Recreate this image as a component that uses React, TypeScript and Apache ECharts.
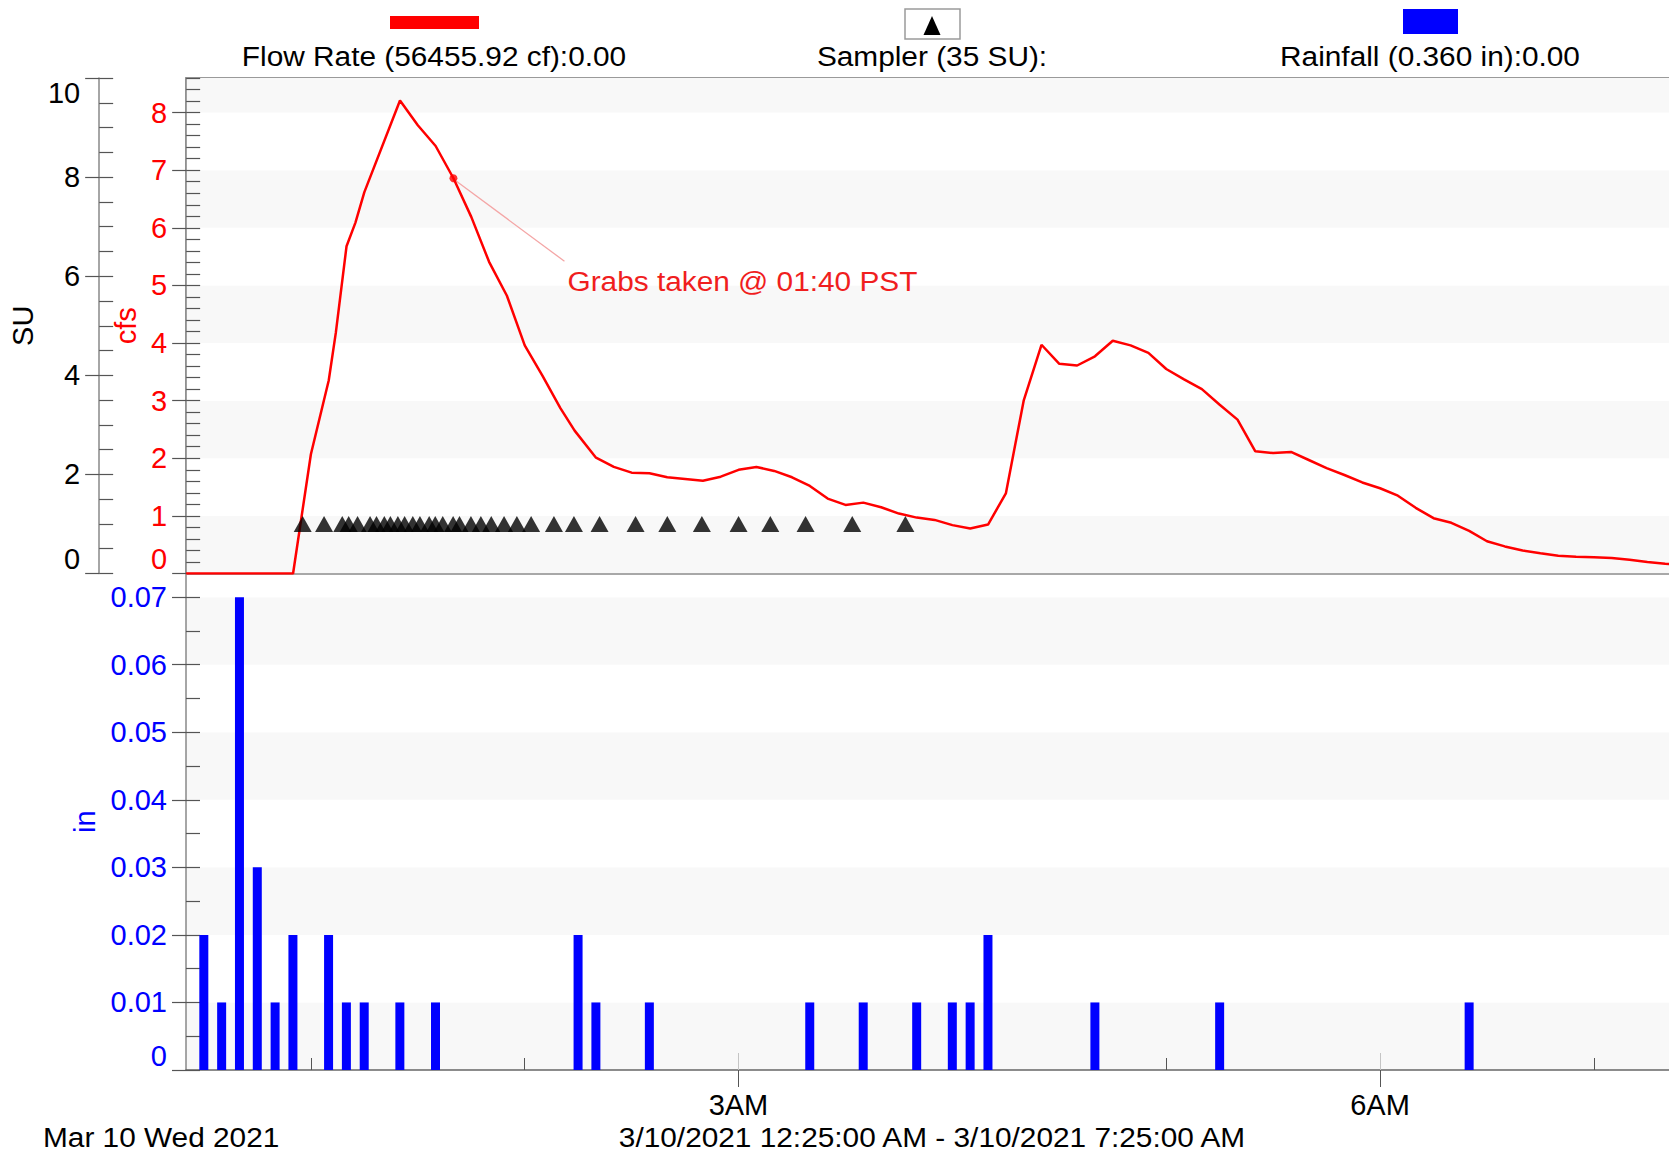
import React, { useEffect, useRef } from "react";
import * as echarts from "echarts";

const FONT = "'Liberation Sans', Arial, Helvetica, sans-serif";

// Times are minutes after midnight on 3/10/2021 (window 12:25 AM - 7:25 AM)
const xMin = 25;
const xMax = 445;

// Flow rate (cfs)
const flowTimes = [
  25, 55, 60, 65, 67, 70, 72.5, 75, 85, 90, 95, 100, 105, 110, 115, 120, 125, 130, 134, 140,
  145, 150, 155, 160, 165, 170, 175, 180, 185, 190, 195, 200, 205, 210, 215, 220, 225, 230,
  235, 240, 245, 250, 255, 260, 265, 270, 275, 280, 285, 290, 295, 300, 305, 310, 315, 320,
  325, 330, 335, 340, 345, 350, 355, 360, 365, 370, 375, 380, 385, 390, 395, 400, 405, 410,
  415, 420, 425, 430, 435, 440, 445,
];
const flowCfs = [
  0, 0, 2.07, 3.35, 4.18, 5.68, 6.09, 6.62, 8.21, 7.78, 7.42, 6.86, 6.19, 5.41, 4.82, 3.96, 3.43, 2.87, 2.48, 2.01,
  1.85, 1.75, 1.74, 1.67, 1.64, 1.61, 1.68, 1.8, 1.85, 1.78, 1.67, 1.52, 1.3, 1.19, 1.23, 1.15, 1.04, 0.97,
  0.93, 0.84, 0.78, 0.85, 1.39, 3.0, 3.97, 3.64, 3.61, 3.77, 4.04, 3.96, 3.83, 3.55, 3.37, 3.2, 2.93, 2.67,
  2.12, 2.09, 2.11, 1.97, 1.83, 1.71, 1.58, 1.48, 1.35, 1.14, 0.96, 0.88, 0.74, 0.56, 0.47, 0.4, 0.35, 0.31,
  0.29, 0.28, 0.27, 0.24, 0.2, 0.17, 0.15,
];

// Sampler events (35 samples), plotted at 1 SU
const samplerTimes = [
  57.7, 63.7, 68.8, 70.6, 73.1, 76.6, 78.4, 80.6, 82.3, 84.4, 86.3, 88.6, 90.6, 93.2, 94.9, 97.0,
  99.9, 101.7, 104.9, 107.7, 110.6, 114.2, 117.8, 121.8, 128.2, 133.8, 141.0, 151.1, 160.0, 169.7,
  180.0, 188.9, 198.8, 211.9, 226.8,
];
const SAMPLER_SU = 1;

// Rainfall (in) per 5 minutes
const rainTimes = [30, 35, 40, 45, 50, 55, 65, 70, 75, 85, 95, 135, 140, 155, 200, 215, 230, 240, 245, 250, 280, 315, 385];
const rainInches = [0.02, 0.01, 0.07, 0.03, 0.01, 0.02, 0.02, 0.01, 0.01, 0.01, 0.01, 0.02, 0.01, 0.01, 0.01, 0.01, 0.01, 0.01, 0.01, 0.02, 0.01, 0.01, 0.01];

// Annotation
const grabTime = 100;
const grabCfs = 6.86;
const grabText = "Grabs taken @ 01:40 PST";

// Tick labels
const hourMinorTicks = [60, 120, 240, 300, 420];
const hourMajorTicks = [180, 360];
const hourLabels: Record<number, string> = { 180: "3AM", 360: "6AM" };
const suLabels = [0, 2, 4, 6, 8, 10];
const cfsLabels = [0, 1, 2, 3, 4, 5, 6, 7, 8];
const inLabels = [0, 0.01, 0.02, 0.03, 0.04, 0.05, 0.06, 0.07];

const legendFlow = "Flow Rate (56455.92 cf):0.00";
const legendSampler = "Sampler (35 SU):";
const legendRain = "Rainfall (0.360 in):0.00";
const footerLeft = "Mar 10 Wed 2021";
const footerCenter = "3/10/2021 12:25:00 AM - 3/10/2021 7:25:00 AM";

const LABEL_SIZE = 29;
const TEXT_SIZE = 28;
const TEXT_STRETCH = 1.065;
const BAND = ["#f8f8f8", "#ffffff"];

const steps = (max: number, step: number) => {
  const out: number[] = [];
  for (let i = 0; i * step <= max + 1e-9; i++) out.push(+(i * step).toFixed(4));
  return out;
};

const tickAxis = (
  gridIndex: number,
  offset: number,
  min: number,
  max: number,
  values: number[],
  inside: boolean
) => ({
  type: "value",
  gridIndex,
  position: "left",
  offset,
  min,
  max,
  axisLine: { show: false, onZero: false },
  splitLine: { show: false },
  axisLabel: { show: false },
  axisTick: { show: true, inside, length: 14, customValues: values, lineStyle: { color: "#555", width: 1.2 } },
});

const textEl = (text: string, x: number, y: number, fill: string, align = "center") => ({
  type: "text",
  x,
  y,
  scaleX: TEXT_STRETCH,
  style: {
    text,
    fontSize: TEXT_SIZE,
    fontFamily: FONT,
    fill,
    align,
    verticalAlign: "middle",
  },
});

export default function App() {
  const ref = useRef<HTMLDivElement>(null);

  useEffect(() => {
    if (!ref.current) return;
    const chart = echarts.init(ref.current, null, { renderer: "svg" });

    const option: any = {
      animation: false,
      backgroundColor: "#ffffff",
      grid: [
        { left: 186, top: 78, width: 1497, height: 495.5, show: true, borderColor: "#9a9a9a", borderWidth: 2, backgroundColor: "transparent" },
        { left: 186, top: 573.5, width: 1497, height: 496.5 },
      ],
      xAxis: [
        {
          type: "value", gridIndex: 0, position: "bottom", min: xMin, max: xMax,
          axisLine: { show: true, onZero: false, lineStyle: { color: "#a8a8a8", width: 2 } },
          axisTick: { show: false }, axisLabel: { show: false }, splitLine: { show: false },
        },
        {
          type: "value", gridIndex: 1, position: "bottom", min: xMin, max: xMax,
          axisLine: { show: true, onZero: false, lineStyle: { color: "#666", width: 1.5 } },
          axisTick: { show: true, inside: true, length: 12, customValues: hourMinorTicks, lineStyle: { color: "#555" } },
          axisLabel: { show: false }, splitLine: { show: false },
        },
        {
          type: "value", gridIndex: 1, position: "bottom", min: xMin, max: xMax,
          axisLine: { show: false, onZero: false },
          axisTick: { show: true, inside: false, length: 17, customValues: hourMajorTicks, lineStyle: { color: "#555" } },
          axisLabel: {
            show: true, customValues: hourMajorTicks, margin: 20, fontSize: LABEL_SIZE, fontFamily: FONT, color: "#000",
            formatter: (v: number) => hourLabels[v] || "",
          },
          splitLine: { show: false },
        },
        {
          type: "value", gridIndex: 1, position: "bottom", min: xMin, max: xMax,
          axisLine: { show: false, onZero: false },
          axisTick: { show: true, inside: true, length: 17, customValues: hourMajorTicks, lineStyle: { color: "#c4c4c4" } },
          axisLabel: { show: false }, splitLine: { show: false },
        },
      ],
      yAxis: [
        // 0: SU
        {
          type: "value", gridIndex: 0, position: "left", offset: 87, min: 0, max: 10,
          name: "SU", nameLocation: "middle", nameGap: 56,
          nameTextStyle: { color: "#000", fontSize: LABEL_SIZE, fontFamily: FONT },
          axisLine: { show: true, onZero: false, lineStyle: { color: "#888", width: 1.5 } },
          axisTick: { show: true, inside: true, length: 14, customValues: steps(10, 0.5), lineStyle: { color: "#555", width: 1.2 } },
          axisLabel: {
            customValues: suLabels, color: "#000", fontSize: LABEL_SIZE, fontFamily: FONT, margin: 19,
            verticalAlignMinLabel: "bottom", verticalAlignMaxLabel: "top",
          },
          splitLine: { show: false },
        },
        // 1: SU outer major ticks
        tickAxis(0, 87, 0, 10, suLabels, false),
        // 2: cfs
        {
          type: "value", gridIndex: 0, position: "left", offset: 0, min: 0, max: 8.6, interval: 1,
          name: "cfs", nameLocation: "middle", nameGap: 44,
          nameTextStyle: { color: "#ff0000", fontSize: LABEL_SIZE, fontFamily: FONT },
          axisLine: { show: true, onZero: false, lineStyle: { color: "#888", width: 1.5 } },
          axisTick: { show: false },
          axisLabel: {
            customValues: cfsLabels, color: "#ff0000", fontSize: LABEL_SIZE, fontFamily: FONT, margin: 19,
            verticalAlignMinLabel: "bottom",
          },
          splitLine: { show: false },
          splitArea: { show: true, areaStyle: { color: BAND } },
        },
        // 3, 4: cfs ticks
        tickAxis(0, 0, 0, 8.6, steps(8.6, 0.2), true),
        tickAxis(0, 0, 0, 8.6, cfsLabels, false),
        // 5: in
        {
          type: "value", gridIndex: 1, position: "left", offset: 0, min: 0, max: 0.0735, interval: 0.01,
          name: "in", nameLocation: "middle", nameGap: 80,
          nameTextStyle: { color: "#0000ff", fontSize: LABEL_SIZE, fontFamily: FONT },
          axisLine: { show: true, onZero: false, lineStyle: { color: "#888", width: 1.5 } },
          axisTick: { show: false },
          axisLabel: {
            customValues: inLabels, color: "#0000ff", fontSize: LABEL_SIZE, fontFamily: FONT, margin: 19,
            verticalAlignMinLabel: "bottom",
            formatter: (v: number) => (v === 0 ? "0" : v.toFixed(2)),
          },
          splitLine: { show: false },
          splitArea: { show: true, areaStyle: { color: BAND } },
        },
        // 6, 7: in ticks
        tickAxis(1, 0, 0, 0.0735, steps(0.07, 0.005), true),
        tickAxis(1, 0, 0, 0.0735, inLabels, false),
      ],
      series: [
        {
          name: "Flow Rate", type: "line", xAxisIndex: 0, yAxisIndex: 2,
          data: flowTimes.map((t, i) => [t, flowCfs[i]]),
          showSymbol: false, symbol: "none",
          lineStyle: { color: "#ff0000", width: 2.5 }, z: 3,
        },
        {
          name: "Sampler", type: "scatter", xAxisIndex: 0, yAxisIndex: 0,
          data: samplerTimes.map((t) => [t, SAMPLER_SU]),
          symbol: "triangle", symbolSize: [18, 16],
          itemStyle: { color: "#000" }, z: 4,
        },
        {
          name: "Grab", type: "scatter", xAxisIndex: 0, yAxisIndex: 2,
          data: [[grabTime, grabCfs]],
          symbol: "circle", symbolSize: 8,
          itemStyle: { color: "#ff0000" }, z: 5,
        },
        {
          name: "Rainfall", type: "bar", xAxisIndex: 1, yAxisIndex: 5,
          data: rainTimes.map((t, i) => [t, rainInches[i]]),
          barWidth: 9, itemStyle: { color: "#0000ff" },
        },
      ],
    };

    chart.setOption(option);

    const p = chart.convertToPixel({ seriesIndex: 2 }, [grabTime, grabCfs]) as number[];

    chart.setOption({
      graphic: [
        { type: "rect", shape: { x: 390, y: 16, width: 89, height: 13 }, style: { fill: "#ff0000" } },
        textEl(legendFlow, 434, 56, "#000"),
        { type: "rect", shape: { x: 905, y: 9, width: 55, height: 30 }, style: { fill: "#fff", stroke: "#9a9a9a", lineWidth: 1.5 } },
        { type: "polygon", shape: { points: [[932, 16], [923.5, 35], [940.5, 35]] }, style: { fill: "#000" } },
        textEl(legendSampler, 932, 56, "#000"),
        { type: "rect", shape: { x: 1403, y: 9, width: 55, height: 25 }, style: { fill: "#0000ff" } },
        textEl(legendRain, 1430, 56, "#000"),
        textEl(footerLeft, 43, 1137, "#000", "left"),
        textEl(footerCenter, 932, 1137, "#000"),
        {
          type: "line",
          shape: { x1: p[0] + 3, y1: p[1] + 3, x2: p[0] + 111, y2: p[1] + 83 },
          style: { stroke: "#f4a6a6", lineWidth: 1.3 },
        },
        textEl(grabText, p[0] + 114, p[1] + 103, "#f01e1e", "left"),
      ],
    });

    return () => chart.dispose();
  }, []);

  return (
    <div style={{ position: "fixed", left: 0, top: 0, width: "100vw", height: "100vh", overflow: "hidden", background: "#fff" }}>
      <div ref={ref} style={{ width: 1700, height: 1155 }} />
    </div>
  );
}
